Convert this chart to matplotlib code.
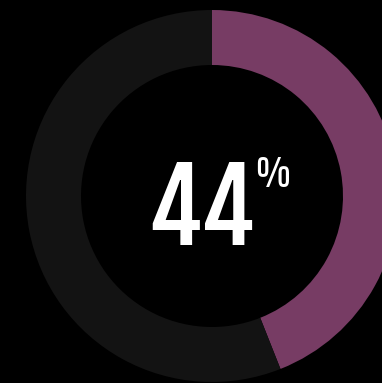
import matplotlib
matplotlib.use("Agg")
import matplotlib.pyplot as plt

values = [44, 56]
colors = ["#773c64", "#131313"]
label = "44"

W, H = 382, 383
fig = plt.figure(figsize=(W / 100, H / 100), dpi=100, facecolor="black")
ax = fig.add_axes([0, 0, 1, 1])
ax.set_facecolor("black")

ax.pie(values, colors=colors, startangle=90, counterclock=False,
       center=(212, H - 196), radius=186,
       wedgeprops=dict(width=55, linewidth=0))
ax.set_xlim(0, W)
ax.set_ylim(0, H)
ax.set_aspect("equal")
ax.axis("off")

ax.text(202, H - 245, label, color="white", fontsize=72,
        family="Fjalla One", ha="center", va="baseline")
ax.text(254, H - 187, "%", color="white", fontsize=25,
        family="Antonio", ha="left", va="baseline")

fig.savefig("out.png", dpi=100, facecolor="black")
